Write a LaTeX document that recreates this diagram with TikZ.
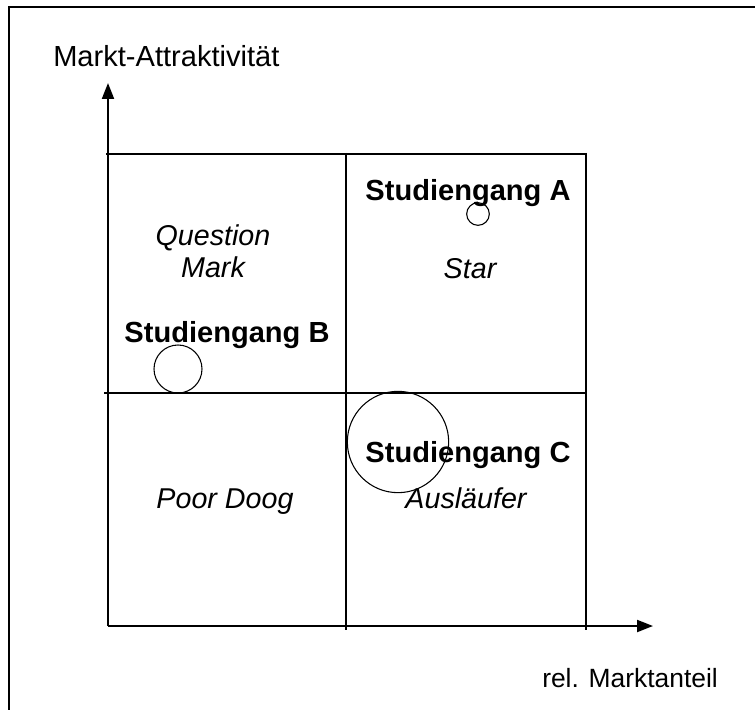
\documentclass[tikz,border=0pt]{standalone}
\usepackage{fontspec}
\setmainfont{Liberation Sans}
\usetikzlibrary{arrows.meta}
\begin{document}
\begin{tikzpicture}[x=0.75pt, y=-0.75pt,
		achse/.style={line width=1.5pt, -{Triangle[length=12pt, width=9pt]}},
		feld/.style={line width=1.1pt},
		kreis/.style={draw, circle, line width=0.8pt, inner sep=0pt},
		schrift/.style={font=\fontsize{21.8}{25}\selectfont, inner sep=0pt},
		produkt/.style={schrift, font=\fontsize{21.8}{25}\selectfont\bfseries, anchor=base},
		feldname/.style={schrift, font=\fontsize{21.5}{25}\selectfont\itshape, anchor=base}]
		\useasboundingbox (0, 0) rectangle (755, 709);
		\clip (0, 0) rectangle (755, 709);
		\draw[line width=1.4pt] (9, 7) rectangle (775, 725);
		\coordinate (ursprung) at (108, 626);
		\coordinate (yspitze) at (108, 83);
		\coordinate (xspitze) at (653, 626);
		\draw[feld] (106, 154) -- (586, 154);
		\draw[feld] (104, 393) -- (586, 393);
		\foreach \x in {346, 586}{
			\draw[feld] (\x, 153) -- (\x, 630);
		}
		\draw[achse] (ursprung) -- (yspitze);
		\draw[achse] (ursprung) -- (xspitze);
		\node[kreis, minimum size=17pt] (kreisA) at (478, 214) {};
		\node[kreis, minimum size=36pt] (kreisB) at (178, 369) {};
		\node[kreis, minimum size=76pt] (kreisC) at (398, 442) {};
		\node[schrift, anchor=base west] (yname) at (53, 67) {Markt-Attraktivität};
		\node[schrift, font=\fontsize{19.8}{24}\selectfont, anchor=base west] (xname) at (542, 687) {rel. Marktanteil};
		\node[produkt] (studA) at (468, 200) {Studiengang A};
		\node[produkt] (studB) at (227, 342) {Studiengang B};
		\node[produkt] (studC) at (468, 462) {Studiengang C};
		\node[feldname] (question) at (213, 245) {Question};
		\node[feldname] (mark) at (213, 277) {Mark};
		\node[feldname] (star) at (470, 278) {Star};
		\node[feldname] (dog) at (225, 508) {Poor Doog};
		\node[feldname] (auslaeufer) at (466, 508) {Ausläufer};
	\end{tikzpicture}
\end{document}
